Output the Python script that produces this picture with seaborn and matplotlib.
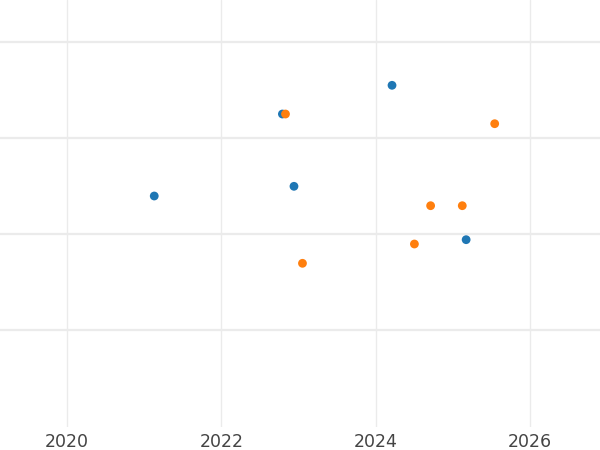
import matplotlib
matplotlib.use("Agg")
import matplotlib.pyplot as plt
import seaborn as sns
import pandas as pd

blue_x = [2021.13, 2022.79, 2022.94, 2024.21, 2025.17]
blue_y = [23.96, 32.5, 24.97, 35.49, 19.41]
orange_x = [2022.83, 2023.05, 2024.50, 2024.71, 2025.12, 2025.54]
orange_y = [32.5, 16.95, 18.96, 22.95, 22.95, 31.49]
series_names = ["A", "B"]
y_grid = [10, 20, 30, 40]
x_ticks = [2020, 2022, 2024, 2026]

df = pd.DataFrame({
    "x": blue_x + orange_x,
    "y": blue_y + orange_y,
    "s": [series_names[0]] * len(blue_x) + [series_names[1]] * len(orange_x),
})

sns.set_style("white")
plt.rcParams["font.family"] = ["DejaVu Sans"]
fig = plt.figure(figsize=(6, 4.5), dpi=100)
ax = fig.add_axes([0, 23 / 450, 1, 427 / 450])
sns.scatterplot(data=df, x="x", y="y", hue="s", palette=["#1f77b4", "#ff7f0e"],
                s=40, linewidth=0, legend=False, ax=ax, zorder=3)
ax.set_xlim(2019.132, 2026.904)
ax.set_ylim(-0.1, 44.375)
ax.set_xticks(x_ticks)
ax.set_xticklabels([str(t) for t in x_ticks], fontsize=12.5, color="#444444")
ax.set_yticks(y_grid)
ax.set_yticklabels([])
ax.tick_params(length=0, pad=4)
ax.grid(False)
for v in y_grid:
    ax.axhline(v, color="#ebebeb", lw=1.6, zorder=1)
for v in x_ticks:
    ax.axvline(v, color="#ebebeb", lw=1.0, zorder=1)
for sp in ax.spines.values():
    sp.set_visible(False)
ax.set_xlabel("")
ax.set_ylabel("")
fig.savefig("out.png", dpi=100)
